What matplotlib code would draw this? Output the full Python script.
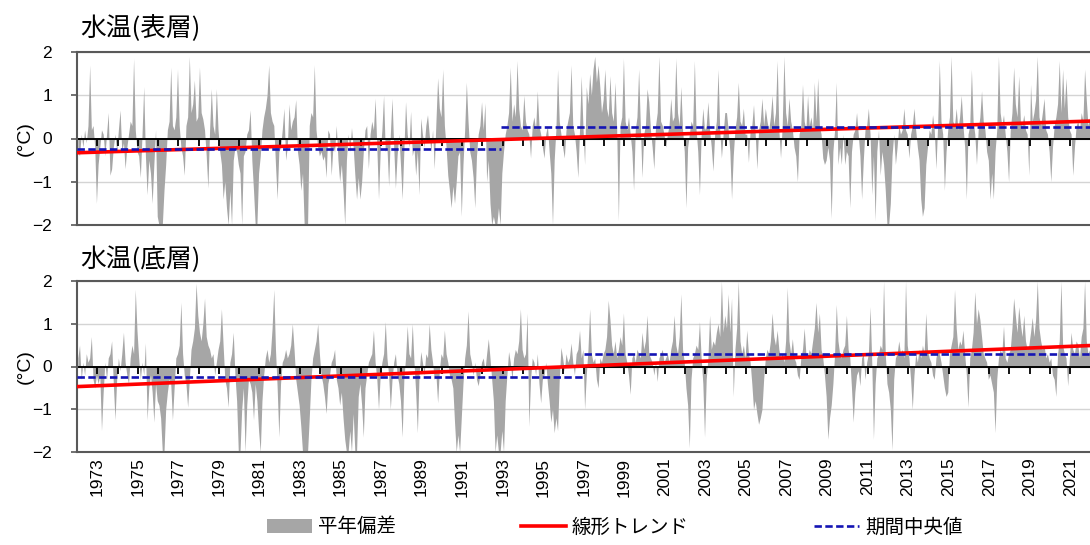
# 水温の平年偏差(表層・底層) — 月別偏差、線形トレンド、期間中央値

import matplotlib
matplotlib.use("Agg")

import matplotlib.pyplot as plt
import numpy as np
from matplotlib.lines import Line2D
from matplotlib.patches import Patch

plt.rcParams["font.family"] = ["Liberation Sans", "Noto Sans CJK JP", "DejaVu Sans"]
JP = ["Noto Sans CJK JP", "DejaVu Sans"]

# ---- data (monthly anomalies, degC) -----------------------------------------
first_year = 1972

surface = [
    [-0.3, -0.4, 0.1, -0.2, 0.2, -0.1, 0.3, 1.7, 0.2, 0.3, -0.2, -1.5],      # 1972
    [-0.6, -0.2, 0.2, 0.1, -0.4, 0.1, 0.6, -0.85, -0.7, -0.2, 0.1, -0.3],    # 1973
    [0.2, 0.66, -0.3, -0.1, -0.7, -0.2, 0.1, 0.4, 0.3, 1.85, 0.2, -0.3],     # 1974
    [-0.4, -0.9, 0.1, 1.2, -0.4, -1.3, -0.5, -0.8, -1.5, -0.6, 0.2, -1.8],   # 1975
    [-2.0, -2.0, -2.0, -1.2, -0.6, 0.2, 0.4, 1.65, 0.3, 0.2, 0.5, 1.6],      # 1976
    [0.3, -0.2, -0.4, -0.85, 0.3, 0.5, 1.9, 0.6, 0.8, 1.35, 0.4, 0.5],       # 1977
    [1.65, 0.6, 0.45, 0.2, -0.4, -1.15, 0.2, 1.15, 0.3, 0.1, 1.15, 0.2],     # 1978
    [-0.3, -0.6, -1.4, -1.0, -1.6, -2.0, -1.2, -2.0, -0.5, -0.2, -0.3, -0.6],  # 1979
    [-0.8, -2.0, -0.4, -0.3, 0.1, 0.2, 0.66, -0.5, -1.2, -2.0, -2.0, -0.8],  # 1980
    [-0.4, 0.2, 0.5, 0.7, 1.0, 1.7, 0.6, 0.4, 0.3, -0.6, -1.4, -0.3],        # 1981
    [-0.2, 0.2, 0.7, -0.5, -0.2, 0.8, 0.2, 0.4, 0.5, 0.9, -0.3, -0.6],       # 1982
    [-1.2, -0.8, -2.0, -2.0, -2.0, 0.3, 0.6, 0.5, 1.7, 0.2, -0.2, -0.4],     # 1983
    [-0.3, -0.5, -0.4, -0.9, 0.2, 0.1, -0.85, -0.2, -0.3, 0.3, -0.5, -1.0],  # 1984
    [-0.6, -1.2, -2.0, -0.5, 0.1, -0.3, 0.25, -0.2, -0.85, -1.4, -0.9, -1.4],  # 1985
    [-1.0, -0.3, 0.2, 0.3, -0.7, 0.1, 0.4, 0.2, 0.93, -0.2, -1.4, -0.3],     # 1986
    [0.2, 1.0, -0.3, -0.2, -1.1, 0.1, 0.93, -0.2, -1.15, -0.4, 0.1, -0.6],   # 1987
    [-1.4, -0.3, 0.85, 0.1, -0.2, 0.63, -0.4, -0.2, -0.85, -0.3, -1.3, 0.47],  # 1988
    [0.1, -0.2, 0.3, 0.55, 0.1, -0.3, 0.2, -0.7, 0.4, 1.4, 0.7, 0.5],        # 1989
    [1.6, 0.3, -0.2, -0.85, -1.2, -1.6, -1.1, -1.5, -1.0, -0.4, -0.3, -1.8],  # 1990
    [-0.6, 0.2, 1.3, 0.4, -0.3, -0.5, -0.9, -1.6, -0.4, 0.1, 0.3, 0.85],     # 1991
    [0.2, 0.82, -1.0, -0.5, -1.5, -2.0, -1.8, -2.0, -2.0, -1.6, -2.0, -0.8],  # 1992
    [-0.3, 0.1, 0.3, 0.6, 1.65, 0.4, 0.8, 0.5, 1.8, 0.7, 0.3, 0.2],          # 1993
    [1.0, 0.4, 0.2, 0.1, -0.45, 0.3, 0.5, 0.2, 1.1, 0.3, 0.1, -0.2],         # 1994
    [-0.45, 0.1, 0.3, -0.3, -0.8, -2.0, -0.5, 0.2, 1.6, 0.4, 0.1, -0.2],     # 1995
    [-0.45, 0.2, 0.4, 0.6, 1.7, 0.3, 0.1, -0.3, -0.9, 0.2, 1.45, 0.3],       # 1996
    [-0.6, 1.2, 0.8, 1.5, 1.0, 1.6, 1.9, 1.3, 1.7, 1.2, 0.6, 0.9],           # 1997
    [1.6, 0.7, 0.5, 1.45, 0.6, 0.4, 1.3, 0.2, -1.9, 0.3, 0.5, 1.85],         # 1998
    [0.4, 0.2, 0.5, 0.1, -0.3, -1.2, 0.2, 0.5, 1.6, 0.3, -0.9, 0.1],         # 1999
    [0.3, 1.15, 0.85, 0.2, -0.2, -0.7, 0.3, 0.6, 1.9, 0.4, 0.3, 0.1],        # 2000
    [-0.2, 0.1, 0.3, 0.93, 0.4, 0.5, 1.85, 0.6, 0.3, 1.2, 0.2, -0.3],        # 2001
    [-1.6, -0.2, 0.1, 0.4, 0.3, 1.8, 0.2, -0.3, -1.3, 0.1, 0.7, 0.2],        # 2002
    [0.3, 0.85, 0.2, -0.2, -0.75, 0.1, 0.4, 1.6, 0.2, -0.45, 0.1, 0.6],      # 2003
    [0.6, 0.2, -0.3, -1.4, -0.4, 0.2, 0.5, 1.3, 0.4, 0.3, 0.7, 0.1],         # 2004
    [0.1, -0.55, 0.2, 0.3, 0.78, 0.1, -0.7, 0.2, 0.4, 0.93, 0.3, 0.7],       # 2005
    [0.4, 0.2, 0.5, 1.0, 0.3, 0.6, 1.8, 0.2, -0.45, 0.3, 1.9, 0.6],          # 2006
    [0.3, 0.93, 0.4, 0.2, -0.2, -0.4, -1.0, 0.1, 0.3, 1.25, 0.4, 0.2],       # 2007
    [1.0, 0.3, 0.5, 0.2, 1.3, 0.4, 1.4, 0.3, 0.1, -0.45, -0.6, -0.5],        # 2008
    [-0.2, -0.5, -1.85, -0.3, 0.2, 1.3, -0.6, -0.2, -0.6, 0.1, -0.6, -0.3],  # 2009
    [-0.4, -1.6, -0.3, 0.1, 0.2, 0.6, 0.1, -0.4, -1.4, -0.5, 0.2, 0.3],      # 2010
    [0.7, 0.1, -1.3, -0.4, -1.9, -0.3, 0.2, -0.85, -0.3, -0.6, -1.2, -2.0],  # 2011
    [-2.0, -1.5, -0.4, 0.1, -0.6, -0.2, 0.3, 0.1, 0.2, 0.7, 0.2, 0.1],       # 2012
    [-0.45, 0.1, 0.3, 0.7, 0.2, -0.2, -0.5, -1.4, -1.8, -1.6, -0.6, -0.2],   # 2013
    [0.2, 0.1, 0.55, 0.2, -0.7, 0.3, 1.8, 0.4, 0.1, -1.2, -0.3, 0.2],        # 2014
    [0.5, 1.9, 0.4, 0.3, 0.7, 0.2, 0.5, 1.0, 0.3, -0.2, -1.4, 0.1],          # 2015
    [0.3, 1.6, 0.4, 0.1, -0.6, 0.2, 0.5, 1.1, 0.4, 0.2, -0.3, -0.5],         # 2016
    [-1.4, -0.8, -1.4, -0.3, 0.2, 1.9, 0.6, 0.3, 0.55, 0.1, -0.3, -1.0],     # 2017
    [0.2, 0.6, 1.65, 0.8, 0.5, 1.45, 0.4, 0.3, 0.55, 0.2, 0.1, -0.85],       # 2018
    [1.25, 0.4, 0.6, 0.9, 1.9, 0.5, 0.3, 0.6, 0.93, 0.2, 0.1, -0.3],         # 2019
    [-1.0, -0.2, 0.3, 0.5, 0.8, 1.8, 0.6, 1.6, 0.7, 1.4, 0.5, 0.2],          # 2020
    [0.1, -0.85, -0.2, 0.3, 0.4, 0.2, 0.6, 0.4, 1.6, 0.9, 0.3, 0.5],         # 2021
]

bottom = [
    [0.2, 0.5, -0.3, 0.1, -0.2, 0.3, 0.1, 0.2, 0.7, -0.3, -0.5, -0.2],       # 1972
    [-0.4, -0.2, -1.5, -0.6, 0.1, -0.3, 0.2, 0.3, 0.6, -0.4, -1.25, -0.3],   # 1973
    [0.2, -0.1, 0.3, 0.8, 0.1, -0.2, -0.4, 0.2, 0.5, 0.3, 1.8, 0.85],        # 1974
    [0.2, -0.3, 0.1, -0.2, 0.55, -1.25, -0.5, -0.2, -0.6, -1.3, -0.4, -0.8],  # 1975
    [-0.9, -1.2, -2.0, -2.0, -1.0, -0.6, -0.3, -0.4, -1.25, -0.5, 0.2, 0.3],  # 1976
    [0.5, 1.5, 0.3, -0.2, -0.4, -0.95, -0.3, 0.4, 0.6, 0.9, 1.95, 1.2],      # 1977
    [0.8, 0.6, 1.0, 1.6, 0.7, 0.5, 0.4, 0.2, 0.3, -0.2, 0.1, 0.4],           # 1978
    [0.6, 1.35, 0.5, -0.3, -0.5, -0.95, 0.1, 0.3, 0.8, -0.2, -0.8, -2.0],    # 1979
    [-2.0, -1.0, -0.5, -2.0, -0.9, -0.3, -0.4, -0.6, -1.25, -0.4, -0.8, -1.5],  # 1980
    [-2.0, -0.8, -0.2, 0.2, 0.4, 0.1, 0.3, 0.9, 1.8, 0.4, -0.5, -1.65],      # 1981
    [-0.4, 0.1, 0.2, 0.4, 0.2, 0.3, 0.5, 1.0, 0.4, -0.3, -0.6, -0.9],        # 1982
    [-1.4, -2.0, -2.0, -2.0, -2.0, -1.2, -0.3, 0.2, 0.4, 0.6, 1.0, 0.3],     # 1983
    [-0.2, -0.4, -0.7, -1.1, -0.4, -0.2, 0.1, 0.2, 0.4, -0.3, -0.5, -0.9],   # 1984
    [-0.6, -1.2, -1.7, -2.0, -2.0, -1.5, -2.0, -1.1, -2.0, -2.0, -0.7, -0.4],  # 1985
    [-0.9, -1.65, -0.5, -0.2, 0.1, 0.2, 0.3, 0.85, 0.1, -0.3, -1.0, -0.2],   # 1986
    [0.1, 0.3, 1.05, 0.2, -0.2, -1.0, -0.3, 0.1, 0.3, -0.2, -0.4, -0.8],     # 1987
    [-1.65, -0.3, 0.2, 0.95, 0.3, 0.2, 1.0, 0.1, -0.6, -1.55, -0.2, 0.35],   # 1988
    [0.1, -0.2, 0.3, 0.2, 1.0, 0.4, 0.1, -0.3, -0.2, -0.85, -0.1, 0.3],      # 1989
    [0.2, 0.85, 0.3, 0.1, -0.2, -0.3, -0.5, -1.3, -2.0, -1.6, -2.0, -1.2],   # 1990
    [-0.4, 0.2, 0.5, 1.3, 0.3, 0.1, -0.2, 0.1, -0.3, -0.45, -0.2, 0.1],      # 1991
    [0.2, -0.1, 0.3, 0.65, 0.2, -0.3, -0.8, -2.0, -1.6, -2.0, -2.0, -1.5],   # 1992
    [-2.0, -0.8, -0.2, 0.35, 0.1, -0.3, 0.2, 0.4, 0.3, 0.6, 1.35, 0.4],      # 1993
    [0.2, 0.3, 1.25, -1.4, -0.3, 0.2, 0.1, -0.2, 0.3, -0.4, -0.85, -0.3],    # 1994
    [-0.2, 0.1, -0.4, -0.8, -1.3, -1.0, -1.55, -1.2, -1.5, -0.3, 0.45, 0.2],  # 1995
    [-0.1, 0.3, 0.1, 0.2, 0.55, 0.1, -0.2, 0.3, 0.4, 0.85, 0.2, 0.4],        # 1996
    [-1.0, -0.2, 0.4, 1.35, 0.3, 0.1, 0.2, -0.3, -0.5, 0.2, 0.1, 0.3],       # 1997
    [0.4, 0.7, 1.55, 1.1, 0.5, 0.3, 0.6, 0.2, 0.4, 0.7, 0.5, 1.25],          # 1998
    [0.3, 0.1, -0.2, -0.65, 0.2, 0.3, 0.1, 0.4, 0.3, 0.2, 0.8, 0.4],         # 1999
    [0.6, 1.2, 0.3, 0.2, 0.1, -0.2, 0.1, -0.35, 0.2, 0.3, 0.4, 0.1],         # 2000
    [0.2, 0.3, 0.1, 0.4, 0.6, 1.2, 0.5, 0.3, 0.7, 1.7, 0.4, 0.1],            # 2001
    [-0.5, -0.9, -1.9, -0.3, 0.2, 0.3, 0.5, 0.4, 1.05, 0.2, -0.4, -1.65],    # 2002
    [-0.3, 0.2, 1.2, 0.4, 0.6, 0.5, 0.8, 1.0, 0.7, 2.0, 0.8, 1.2],           # 2003
    [0.9, 1.7, 0.8, 1.6, -0.7, 0.4, 0.9, 2.0, 0.6, 0.3, 0.5, 0.2],           # 2004
    [0.85, 0.3, 0.1, -0.4, -1.0, -0.8, -1.1, -1.35, -1.2, -1.0, -0.3, 0.2],  # 2005
    [0.4, 0.3, 0.6, 1.25, 0.7, 0.5, 0.85, 0.4, 0.2, 0.3, 0.1, 0.6],          # 2006
    [1.85, 0.6, 0.3, 0.65, 0.2, 0.1, -0.2, -0.3, 0.2, 0.4, 0.9, 0.3],        # 2007
    [0.2, 0.4, 0.3, 0.6, 0.9, 1.5, 0.8, 1.25, 0.4, 0.2, -0.2, -0.7],         # 2008
    [-1.7, -1.2, -0.9, -0.4, 0.3, 1.45, 0.6, 0.3, 0.2, 0.4, 0.5, 1.2],       # 2009
    [0.4, 0.2, -0.5, -1.3, -0.6, -0.2, -0.1, -0.45, 0.2, 0.3, -0.3, 0.1],    # 2010
    [0.3, 1.4, 0.1, -1.7, -0.4, 0.2, 0.3, 0.5, 0.4, 2.0, 0.3, -0.4],         # 2011
    [-0.6, -1.0, -1.95, -0.3, 0.2, 0.3, 0.6, 0.3, 0.4, 0.2, 2.0, 0.5],       # 2012
    [0.2, -0.3, -1.0, -0.2, 0.3, 0.1, 0.4, 0.2, 0.5, 0.3, 1.25, 0.4],        # 2013
    [0.2, 0.1, -0.2, -0.3, 0.2, 0.4, 0.3, 0.1, -0.2, -0.5, -0.7, -0.6],      # 2014
    [0.3, 0.5, 0.7, 1.8, 0.9, 0.4, 0.6, 0.5, 0.85, 0.3, -0.2, -0.95],        # 2015
    [0.2, 0.4, 0.8, 1.75, 1.0, 1.35, 1.1, 0.7, 0.3, 0.2, 0.1, -0.3],         # 2016
    [-0.2, -0.4, -0.6, -1.55, -0.3, 0.2, 0.4, 0.3, 0.95, 0.2, 0.1, 0.3],     # 2017
    [0.4, 0.9, 1.6, 1.2, 0.8, 1.4, 1.0, 0.7, 1.2, 0.6, 0.4, 0.5],            # 2018
    [0.8, 1.15, 0.7, 1.1, 2.0, 0.9, 0.6, 0.4, 0.5, 0.2, 0.3, 0.1],           # 2019
    [0.2, -0.2, -0.3, -0.7, 0.3, 0.6, 2.0, 0.5, 0.3, 0.2, -0.45, 0.2],       # 2020
    [0.8, 0.4, 0.3, 0.6, 0.5, 0.2, 0.7, 0.9, 2.0, 0.6, 0.3, 0.4],            # 2021
]

# linear trend end points
trend_years = [1972.0, 2022.5]
surface_trend = [-0.33, 0.41]
bottom_trend = [-0.47, 0.50]

# period medians: start, end, value
surface_med_start = [1972.0, 1992.9]
surface_med_end = [1992.9, 2023.0]
surface_med_val = [-0.25, 0.27]
bottom_med_start = [1972.0, 1997.0]
bottom_med_end = [1997.0, 2023.0]
bottom_med_val = [-0.24, 0.30]

titles = ["水温(表層)", "水温(底層)"]
legend_labels = ["平年偏差", "線形トレンド", "期間中央値"]
label_years = list(range(1973, 2022, 2))

GRAY = "#a6a6a6"
RED = "#ff0000"
BLUE = "#1414b4"
FRAME = "#595959"
DASH = (0, (2.8, 1.3))

W, H = 1090, 545
fig = plt.figure(figsize=(W / 100, H / 100), dpi=100)
# axes run past the right edge of the picture, like the cropped original
ax1 = fig.add_axes([77 / W, 1 - 225 / H, 1033 / W, 173 / H])
ax2 = fig.add_axes([77 / W, 1 - 452 / H, 1033 / W, 171 / H])


def draw_panel(ax, rows, trend, med_start, med_end, med_val, show_labels):
    vals = np.array(rows, dtype=float).ravel()
    x = first_year + (np.arange(len(vals)) + 0.5) / 12
    ax.fill_between(x, vals, 0, color=GRAY, lw=0, zorder=1)
    ax.plot(trend_years, trend, color=RED, lw=2.6, zorder=4)
    ax.hlines(med_val, med_start, med_end, colors=BLUE, linestyles=DASH,
              lw=1.9, zorder=5)

    ax.set_xlim(1972, 1972 + 1033 / 20.27)
    ax.set_ylim(-2, 2)
    ax.set_yticks([-2, -1, 0, 1, 2])
    ax.yaxis.grid(True, color="#d4d4d4", lw=1.0)
    ax.set_axisbelow(True)
    for s in ax.spines.values():
        s.set_color(FRAME)
        s.set_linewidth(1.5)
    ax.tick_params(axis="y", length=4, width=1.2, color=FRAME, labelsize=12.5,
                   pad=14)

    ax.set_xticks(label_years)
    ax.tick_params(axis="x", length=0, labelsize=12.5, pad=4,
                   labelrotation=90, labelbottom=show_labels)

    # zero line with the small yearly ticks hanging from it
    zero = ax.secondary_xaxis(0, transform=ax.transData)
    zero.set_xticks(range(1972, 2024))
    zero.tick_params(axis="x", direction="out", length=5, width=1.3,
                     color="black", labelbottom=False)
    zero.spines["bottom"].set_color("black")
    zero.spines["bottom"].set_linewidth(1.4)
    zero.set_zorder(2)

    # y-axis unit, placed at the same spot as in the original
    pos = ax.get_position()
    fig.text(25 / W, pos.y0 + pos.height / 2, "(°C)", fontsize=14,
             rotation=90, ha="center", va="center")


draw_panel(ax1, surface, surface_trend, surface_med_start, surface_med_end,
           surface_med_val, False)
draw_panel(ax2, bottom, bottom_trend, bottom_med_start, bottom_med_end,
           bottom_med_val, True)

fig.text(80 / W, 1 - 29 / H, titles[0], family=JP, fontsize=18.5, va="center")
fig.text(80 / W, 1 - 260 / H, titles[1], family=JP, fontsize=18.5, va="center")

handles = [
    Patch(facecolor=GRAY, edgecolor="none"),
    Line2D([], [], color=RED, lw=2.6),
    Line2D([], [], color=BLUE, lw=1.9, ls=DASH),
]
fig.legend(handles, legend_labels, loc="center", bbox_to_anchor=(0.564, 1 - 527 / H),
           ncol=3, frameon=False, prop={"family": JP, "size": 14},
           handlelength=2.3, handletextpad=0.3, columnspacing=6.45)

fig.savefig("out.png", dpi=100)
